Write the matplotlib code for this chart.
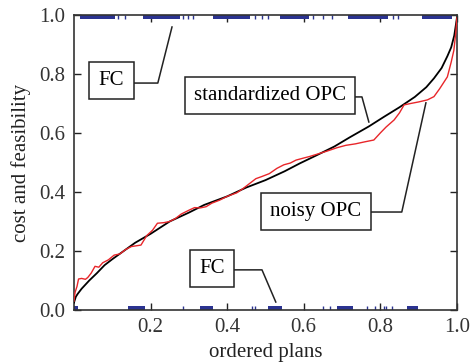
import matplotlib
matplotlib.use("Agg")
import matplotlib.pyplot as plt

# standardized OPC (black)
std_x = [0.0, 0.005, 0.01, 0.02, 0.04, 0.06, 0.08, 0.10, 0.13, 0.16, 0.20, 0.25,
         0.30, 0.34, 0.40, 0.45, 0.50, 0.55, 0.59, 0.63, 0.68, 0.72, 0.77, 0.81,
         0.85, 0.89, 0.92, 0.94, 0.96, 0.975, 0.985, 0.993, 1.0]
std_y = [0.025, 0.045, 0.055, 0.072, 0.100, 0.125, 0.152, 0.172, 0.200, 0.228, 0.258, 0.300,
         0.330, 0.356, 0.385, 0.415, 0.440, 0.470, 0.497, 0.522, 0.554, 0.585, 0.622, 0.655,
         0.687, 0.722, 0.755, 0.785, 0.820, 0.860, 0.890, 0.930, 0.990]

# noisy OPC (red)
noisy_x = [0.0, 0.003, 0.008, 0.012, 0.02, 0.03, 0.036, 0.045, 0.055, 0.065, 0.075, 0.09,
           0.105, 0.12, 0.135, 0.15, 0.165, 0.175, 0.19, 0.205, 0.218, 0.235, 0.25, 0.265,
           0.28, 0.30, 0.315, 0.33, 0.345, 0.36, 0.38, 0.40, 0.425, 0.44, 0.46, 0.475,
           0.49, 0.51, 0.53, 0.548, 0.565, 0.58, 0.60, 0.615, 0.635, 0.66, 0.687, 0.71,
           0.735, 0.76, 0.783, 0.80, 0.815, 0.836, 0.85, 0.862, 0.88, 0.90, 0.923, 0.94,
           0.955, 0.965, 0.975, 0.985, 0.992, 0.997, 1.0]
noisy_y = [0.03, 0.06, 0.08, 0.105, 0.107, 0.104, 0.11, 0.125, 0.148, 0.145, 0.16, 0.17,
           0.186, 0.19, 0.205, 0.215, 0.218, 0.22, 0.252, 0.27, 0.294, 0.296, 0.30, 0.31,
           0.325, 0.338, 0.347, 0.346, 0.35, 0.362, 0.372, 0.385, 0.397, 0.41, 0.43, 0.445,
           0.452, 0.462, 0.48, 0.492, 0.498, 0.508, 0.515, 0.52, 0.528, 0.538, 0.55, 0.558,
           0.563, 0.57, 0.576, 0.60, 0.62, 0.644, 0.668, 0.695, 0.70, 0.705, 0.712, 0.723,
           0.75, 0.77, 0.79, 0.84, 0.88, 0.94, 0.99]

# feasible plans (marks at 1.0): dense runs and single plans
feas_runs = [(0.016, 0.107), (0.18, 0.277), (0.363, 0.46), (0.538, 0.615),
             (0.715, 0.82), (0.909, 0.987)]
feas_single = [0.115, 0.133, 0.285, 0.298, 0.31, 0.473, 0.49, 0.507, 0.624,
               0.65, 0.674, 0.833, 0.846]

# infeasible plans (marks at 0.0)
infeas_runs = [(0.0, 0.01), (0.141, 0.185), (0.329, 0.363), (0.507, 0.542),
               (0.686, 0.729), (0.869, 0.899)]
infeas_single = [0.285, 0.464, 0.473, 0.651, 0.668, 0.764, 0.786, 0.81, 0.815, 0.83]

xticks = [0.2, 0.4, 0.6, 0.8, 1.0]
yticks = [0.0, 0.2, 0.4, 0.6, 0.8, 1.0]

plt.rcParams['font.family'] = ['Liberation Serif', 'DejaVu Serif']

fig = plt.figure(figsize=(4.74, 3.63), dpi=100)
ax = fig.add_axes([0.156, 0.146, 0.808, 0.813])

mark_h = 0.014
blue = '#2b3391'
ax.broken_barh([(a, b - a) for a, b in feas_runs], (1.0 - mark_h, mark_h),
               facecolors=blue, zorder=2)
ax.vlines(feas_single, 1.0 - mark_h, 1.0, colors=blue, lw=1, zorder=2)
ax.broken_barh([(a, b - a) for a, b in infeas_runs], (0.0, mark_h),
               facecolors=blue, zorder=2)
ax.vlines(infeas_single, 0.0, mark_h, colors=blue, lw=1, zorder=2)

ax.plot(std_x, std_y, color='black', lw=1.3, zorder=3)
ax.plot(noisy_x, noisy_y, color='#e8262a', lw=1.0, zorder=4)

# labels with connector lines
box = dict(boxstyle='square,pad=0.45', fc='white', ec='#222222', lw=1.1)
labels = [
    ("FC", 0.098, 0.778, [0.154, 0.219, 0.256], [0.769, 0.769, 0.959]),
    ("standardized OPC", 0.512, 0.727, [0.726, 0.752, 0.77], [0.722, 0.722, 0.637]),
    ("noisy OPC", 0.632, 0.334, [0.770, 0.856, 0.919], [0.332, 0.332, 0.702]),
    ("FC", 0.36, 0.141, [0.415, 0.491, 0.527], [0.136, 0.136, 0.027]),
]
for txt, tx, ty, lx, ly in labels:
    ax.plot(lx, ly, color='#222222', lw=1.1, zorder=5)
    ax.text(tx, ty, txt, ha='center', va='center', fontsize=15, bbox=box, zorder=6)

ax.set_xlim(0, 1)
ax.set_ylim(0, 1)
ax.set_xticks(xticks)
ax.set_xticklabels(["%.1f" % v for v in xticks])
ax.set_yticks(yticks)
ax.set_yticklabels(["%.1f" % v for v in yticks])
ax.tick_params(direction='in', length=5, width=1, top=True, right=True,
               labelsize=15, colors='#222222', labelcolor='#333333', pad=6)
for s in ax.spines.values():
    s.set_linewidth(1.2)
    s.set_color('#333333')

ax.set_xlabel("ordered plans", fontsize=15, color='#222222', labelpad=4)
ax.set_ylabel("cost and feasibility", fontsize=15, color='#222222', labelpad=6)

fig.savefig('out.png', dpi=100)
